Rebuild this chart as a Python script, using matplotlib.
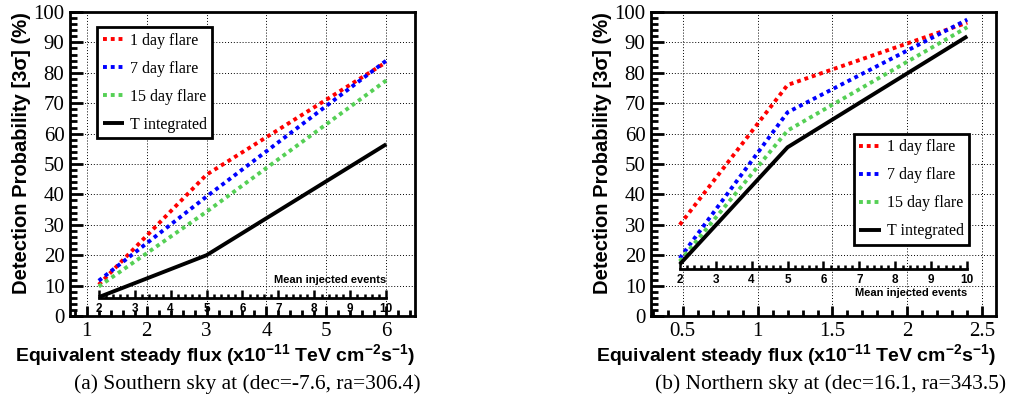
import numpy as np
import matplotlib
matplotlib.use("Agg")
import matplotlib.pyplot as plt
from matplotlib.ticker import MultipleLocator, FormatStrFormatter
from matplotlib.transforms import ScaledTranslation

plt.rcParams['mathtext.fontset'] = 'custom'
plt.rcParams['mathtext.rm'] = 'Liberation Sans:bold'
plt.rcParams['mathtext.bf'] = 'Liberation Sans:bold'
plt.rcParams['mathtext.it'] = 'Liberation Sans:bold'

# data: mean injected events -> equivalent flux
events = [2, 5, 10]

south_flux = [1.2, 3.0, 6.0]
south_1day = [10.3, 46.5, 83.5]
south_7day = [11.6, 39.3, 84.0]
south_15day = [9.7, 34.3, 77.5]
south_tint = [6.2, 20.0, 56.5]

north_flux = [0.48, 1.2, 2.4]
north_1day = [30.0, 76.0, 96.5]
north_7day = [19.0, 67.0, 97.5]
north_15day = [18.0, 61.0, 95.0]
north_tint = [17.0, 55.5, 92.0]

labels = ["1 day flare", "7 day flare", "15 day flare", "T integrated"]
colors = ["#ff0000", "#0000ff", "#55d055", "black"]
captions = ["(a) Southern sky at (dec=-7.6, ra=306.4)",
            "(b) Northern sky at (dec=16.1, ra=343.5)"]

serif = "Liberation Serif"
sans = "Liberation Sans"

fig = plt.figure(figsize=(10.12, 3.99), dpi=100)
W, H = 1012, 399


def panel(left, flux, series, xmaj, xmin_step, sec_y, title_above, leg_anchor, caption, cap_x):
    ax = fig.add_axes([left / W, (H - 316) / H, 345 / W, 304 / H])
    for ys, lab, c in zip(series, labels, colors):
        if lab == "T integrated":
            ax.plot(flux, ys, color=c, lw=2.8, solid_capstyle='butt', label=lab)
        else:
            ax.plot(flux, ys, color=c, lw=2.8, dashes=(1, 1), label=lab)
    span = flux[-1] - flux[0]
    ax.set_xlim(flux[0] - 0.1 * span, flux[-1] + 0.1 * span)
    ax.set_ylim(0, 100)
    ax.xaxis.set_major_locator(MultipleLocator(xmaj))
    ax.xaxis.set_minor_locator(MultipleLocator(xmin_step))
    ax.xaxis.set_major_formatter(FormatStrFormatter('%g'))
    ax.yaxis.set_major_locator(MultipleLocator(10))
    ax.yaxis.set_minor_locator(MultipleLocator(2))
    ax.tick_params(which='both', direction='in', width=2, top=False, right=False,
                   labelsize=15)
    ax.tick_params(axis='y', which='major', length=9, pad=4)
    ax.tick_params(axis='y', which='minor', length=5)
    ax.tick_params(axis='x', which='major', length=7, pad=4)
    ax.tick_params(axis='x', which='minor', length=4)
    for lab in ax.get_xticklabels() + ax.get_yticklabels():
        lab.set_fontfamily(serif)
    for s in ax.spines.values():
        s.set_linewidth(2)
    ax.grid(True, which='major', color='black', ls=(0, (1, 2)), lw=0.7)
    ax.set_xlabel("Equivalent steady flux (x10$^{-11}$ TeV cm$^{-2}$s$^{-1}$)",
                  fontfamily=sans, fontweight='bold', fontsize=14, labelpad=1,
                  loc='right')
    ax.set_ylabel("Detection Probability [3\u03c3] (%)", fontfamily=sans,
                  fontweight='bold', fontsize=14.5, labelpad=2, loc='top')
    leg = ax.legend(loc='upper left', bbox_to_anchor=leg_anchor, borderaxespad=0,
                    prop={'family': serif, 'size': 11.5}, fancybox=False,
                    framealpha=1, edgecolor='black', handlelength=1.35,
                    labelspacing=0.75, borderpad=0.35, handletextpad=0.35)
    leg.get_frame().set_linewidth(2)

    # secondary axis: mean injected events
    sec = ax.inset_axes([flux[0], sec_y, span, 0.01], transform=ax.transData)
    sec.set_xlim(events[0], events[-1])
    sec.patch.set_visible(False)
    sec.set_yticks([])
    for k in ('top', 'left', 'right'):
        sec.spines[k].set_visible(False)
    sec.spines['bottom'].set_linewidth(2)
    sec.xaxis.set_major_locator(MultipleLocator(1))
    sec.xaxis.set_minor_locator(MultipleLocator(0.2))
    sec.tick_params(which='both', direction='in', width=1.8, labelsize=8.5, pad=4)
    sec.tick_params(which='major', length=6)
    sec.tick_params(which='minor', length=3)
    for lab in sec.get_xticklabels():
        lab.set_fontfamily(sans)
        lab.set_fontweight('bold')
    if title_above:
        sec.text(1.0, 0, "Mean injected events", ha='right', va='bottom',
                 fontsize=8, fontweight='bold', fontfamily=sans,
                 transform=sec.transAxes + ScaledTranslation(0, 0.13, fig.dpi_scale_trans))
    else:
        sec.text(1.0, 0, "Mean injected events", ha='right', va='top',
                 fontsize=8, fontweight='bold', fontfamily=sans,
                 transform=sec.transAxes + ScaledTranslation(0, -0.19, fig.dpi_scale_trans))
    fig.text(cap_x / W, (H - 384) / H, caption, ha='center', va='center',
             fontfamily=serif, fontsize=15.5)
    return ax


panel(70, south_flux, [south_1day, south_7day, south_15day, south_tint], 1, 0.2,
      6.0, True, (0.078, 0.95), captions[0], 247)
panel(651, north_flux, [north_1day, north_7day, north_15day, north_tint], 0.5, 0.1,
      15.5, False, (0.588, 0.60), captions[1], 831)

fig.savefig("out.png", dpi=100)
